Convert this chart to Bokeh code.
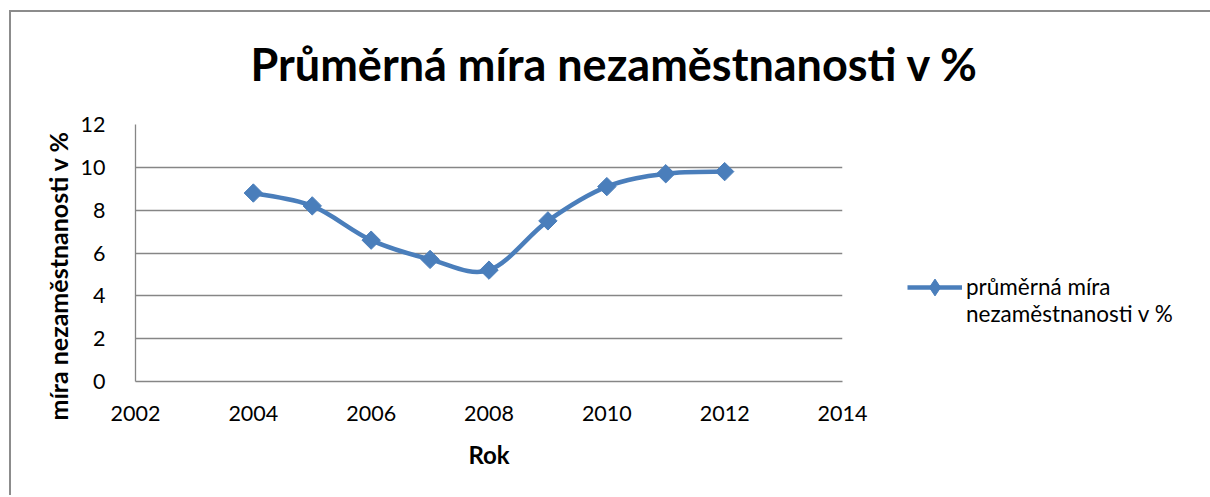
from bokeh.plotting import figure
from bokeh.models import ColumnDataSource, Legend, LegendItem, FixedTicker, Range1d, Title
from bokeh.embed import file_html
from bokeh.resources import INLINE

years = [2004, 2005, 2006, 2007, 2008, 2009, 2010, 2011, 2012]
rates = [8.8, 8.2, 6.6, 5.7, 5.2, 7.5, 9.1, 9.7, 9.8]
x_ticks = [2002, 2004, 2006, 2008, 2010, 2012, 2014]
y_ticks = [0, 2, 4, 6, 8, 10, 12]
title_text = "Průměrná míra nezaměstnanosti v %"
x_label = "Rok"
y_label = "míra nezaměstnanosti v %"
legend_lines = ["průměrná míra", "nezaměstnanosti v %"]

BLUE = "#4A7EBB"
GRID = "#868686"
EDGE = "#8c8c8c"
FONT = "Lato"

# smooth (Catmull-Rom style) bezier segments derived from the data points
n = len(years)
def pt(i):
    i = max(0, min(n - 1, i))
    return years[i], rates[i]
x0, y0, x1, y1, cx0, cy0, cx1, cy1 = [], [], [], [], [], [], [], []
for i in range(n - 1):
    ax, ay = pt(i)
    bx, by = pt(i + 1)
    px, py = pt(i - 1)
    qx, qy = pt(i + 2)
    x0.append(ax); y0.append(ay); x1.append(bx); y1.append(by)
    cx0.append(ax + (bx - px) / 6.0); cy0.append(ay + (by - py) / 6.0)
    cx1.append(bx - (qx - ax) / 6.0); cy1.append(by - (qy - ay) / 6.0)
curve = ColumnDataSource(dict(x0=x0, y0=y0, x1=x1, y1=y1, cx0=cx0, cy0=cy0, cx1=cx1, cy1=cy1))
pts = ColumnDataSource(dict(x=years, y=rates))

p = figure(frame_width=707, frame_height=257, output_backend="svg", toolbar_location=None,
           x_range=Range1d(2002, 2014), y_range=Range1d(0, 12),
           min_border_left=135, min_border_right=5, min_border_top=124, min_border_bottom=114)
# chart-area edge lines (top and left) painted behind a transparent canvas border
p.styles = {
    "background-color": "white",
    "background-image": f"linear-gradient({EDGE}, {EDGE}), linear-gradient({EDGE}, {EDGE})",
    "background-size": "2px 100%, 100% 2px",
    "background-position": "9px 10px, 9px 10px",
    "background-repeat": "no-repeat, no-repeat",
}
p.outline_line_color = None
p.background_fill_color = "white"
p.border_fill_alpha = 0

p.title.text = title_text
p.title.text_font = FONT
p.title.text_font_size = "45px"
p.title.text_font_style = "bold"
p.title.text_color = "black"
p.title.align = "left"
p.title.offset = 115
p.title.standoff = 68

p.xgrid.grid_line_color = None
p.ygrid.grid_line_color = GRID
p.ygrid.grid_line_width = 1.3

for ax in (p.xaxis[0], p.yaxis[0]):
    ax.axis_line_color = GRID
    ax.axis_line_width = 1.3
    ax.major_tick_line_color = None
    ax.minor_tick_line_color = None
    ax.major_label_text_font = FONT
    ax.major_label_text_font_size = "21.5px"
    ax.major_label_text_color = "black"

p.xaxis.ticker = FixedTicker(ticks=x_ticks)
p.yaxis.ticker = FixedTicker(ticks=y_ticks)
p.xaxis.axis_label = x_label
p.xaxis.axis_label_text_font = FONT
p.xaxis.axis_label_text_font_size = "24px"
p.xaxis.axis_label_text_font_style = "bold"
p.xaxis.axis_label_text_color = "black"
p.xaxis.major_label_standoff = 18
p.xaxis.axis_label_standoff = 16
p.yaxis.major_label_standoff = 24

ytitle = Title(text=y_label, align="left", offset=-39, standoff=10,
               text_font=FONT, text_font_size="25px", text_font_style="bold", text_color="black")
p.add_layout(ytitle, "left")

curve_r = p.bezier(x0="x0", y0="y0", x1="x1", y1="y1", cx0="cx0", cy0="cy0", cx1="cx1", cy1="cy1",
                   source=curve, line_color=BLUE, line_width=4.5)
marks_r = p.scatter("x", "y", source=pts, marker="square", angle=0.785398, size=13,
                    fill_color=BLUE, line_color=BLUE)
leg_mark = p.scatter("x", "y", source=pts, marker="diamond", size=18,
                     fill_color=BLUE, line_color=BLUE, visible=False)

legend = Legend(items=[LegendItem(label="\n" + "\n".join(legend_lines),
                                  renderers=[curve_r, leg_mark], index=0)],
                location=(65, 54), border_line_color=None, background_fill_alpha=0,
                glyph_width=55, glyph_height=42, spacing=0, label_standoff=4,
                label_text_font=FONT, label_text_font_size="22.5px", label_text_color="black",
                label_text_line_height=1.45,
                inactive_fill_alpha=0, padding=0, margin=0)
p.add_layout(legend, "right")

open("out.html", "w").write(file_html(p, INLINE))
